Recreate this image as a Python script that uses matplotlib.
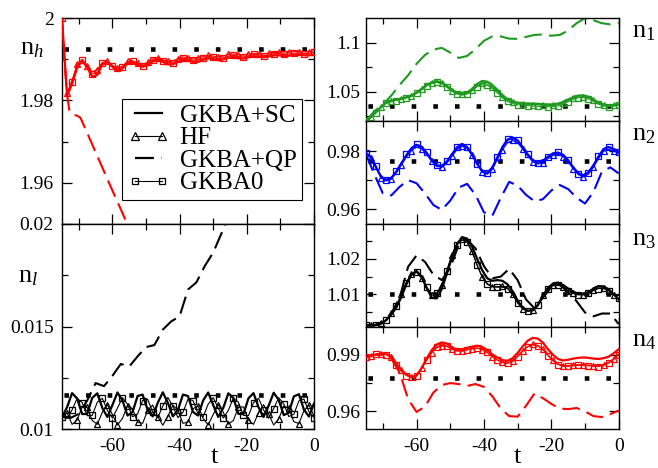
import numpy as np
import matplotlib
matplotlib.use('Agg')
import matplotlib.pyplot as plt
from matplotlib.lines import Line2D
from matplotlib.ticker import MultipleLocator, FixedLocator, FuncFormatter

plt.rcParams['font.family'] = ['Liberation Serif', 'DejaVu Serif']
plt.rcParams['mathtext.fontset'] = 'custom'
plt.rcParams['mathtext.rm'] = 'Liberation Serif'
plt.rcParams['mathtext.it'] = 'Liberation Serif:italic'
plt.rcParams['axes.unicode_minus'] = False

# ---------------- data ----------------
t = np.arange(-75, 0.01, 1.5)     # 51 samples, time grid of the GKBA+SC / HF / GKBA0 curves
t2 = np.arange(-75, 0.01, 2.5)    # 31 samples, time grid of most GKBA+QP curves

# n_h
nh_sc = [2.0000, 1.9812, 1.9840, 1.9880, 1.9897, 1.9880, 1.9858, 1.9862, 1.9888, 1.9893,
         1.9882, 1.9872, 1.9878, 1.9890, 1.9892, 1.9886, 1.9882, 1.9886, 1.9895, 1.9899,
         1.9894, 1.9888, 1.9888, 1.9894, 1.9899, 1.9898, 1.9894, 1.9894, 1.9899, 1.9903,
         1.9901, 1.9898, 1.9900, 1.9904, 1.9906, 1.9903, 1.9902, 1.9905, 1.9908, 1.9907,
         1.9905, 1.9907, 1.9910, 1.9910, 1.9908, 1.9909, 1.9911, 1.9912, 1.9910, 1.9910,
         1.9912]
nh_hf = [2.0000, 1.9818, 1.9850, 1.9888, 1.9900, 1.9885, 1.9870, 1.9875, 1.9893, 1.9895,
         1.9886, 1.9879, 1.9884, 1.9895, 1.9897, 1.9891, 1.9888, 1.9893, 1.9901, 1.9904,
         1.9899, 1.9895, 1.9896, 1.9902, 1.9906, 1.9904, 1.9901, 1.9903, 1.9907, 1.9910,
         1.9908, 1.9906, 1.9908, 1.9912, 1.9913, 1.9911, 1.9910, 1.9913, 1.9915, 1.9914,
         1.9913, 1.9915, 1.9917, 1.9917, 1.9915, 1.9917, 1.9919, 1.9919, 1.9918, 1.9919,
         1.9921]
nh_g0 = [2.0000, 1.9815, 1.9846, 1.9885, 1.9899, 1.9883, 1.9865, 1.9869, 1.9891, 1.9894,
         1.9884, 1.9876, 1.9881, 1.9893, 1.9895, 1.9889, 1.9885, 1.9890, 1.9898, 1.9902,
         1.9897, 1.9892, 1.9892, 1.9898, 1.9903, 1.9901, 1.9898, 1.9899, 1.9903, 1.9907,
         1.9905, 1.9902, 1.9904, 1.9908, 1.9910, 1.9907, 1.9906, 1.9909, 1.9912, 1.9911,
         1.9909, 1.9911, 1.9914, 1.9914, 1.9912, 1.9913, 1.9915, 1.9916, 1.9914, 1.9915,
         1.9917]
nh_qp_t = [-75, -74.3, -73.5, -72.8, -72, -70.5, -69.5, -66, -63, -60, -57, -54, -51]
nh_qp = [2.0, 1.990, 1.9815, 1.9775, 1.9766, 1.9763, 1.9758, 1.9693, 1.9637, 1.9581,
         1.9526, 1.9470, 1.9414]
nh_eq = 1.9925

# n_l
nl_sc = [0.01060, 0.01107, 0.01176, 0.01150, 0.01074, 0.01075, 0.01153, 0.01175, 0.01104, 0.01060,
         0.01118, 0.01179, 0.01140, 0.01067, 0.01084, 0.01162, 0.01169, 0.01093, 0.01063, 0.01129,
         0.01180, 0.01129, 0.01063, 0.01093, 0.01169, 0.01162, 0.01084, 0.01067, 0.01140, 0.01179,
         0.01118, 0.01060, 0.01104, 0.01175, 0.01153, 0.01075, 0.01074, 0.01151, 0.01176, 0.01107,
         0.01060, 0.01115, 0.01178, 0.01143, 0.01069, 0.01081, 0.01160, 0.01171, 0.01096, 0.01062,
         0.01126]
nl_hf = [0.01060, 0.01081, 0.01024, 0.01045, 0.01109, 0.01107, 0.01043, 0.01024, 0.01083, 0.01120,
         0.01072, 0.01021, 0.01053, 0.01114, 0.01100, 0.01035, 0.01029, 0.01092, 0.01118, 0.01062,
         0.01020, 0.01062, 0.01118, 0.01092, 0.01029, 0.01035, 0.01100, 0.01114, 0.01053, 0.01021,
         0.01072, 0.01120, 0.01083, 0.01025, 0.01043, 0.01107, 0.01109, 0.01045, 0.01024, 0.01081,
         0.01120, 0.01074, 0.01021, 0.01051, 0.01113, 0.01102, 0.01037, 0.01028, 0.01090, 0.01118,
         0.01065]
nl_g0 = [0.01060, 0.01055, 0.01094, 0.01151, 0.01130, 0.01066, 0.01068, 0.01132, 0.01151, 0.01092,
         0.01055, 0.01103, 0.01154, 0.01122, 0.01061, 0.01075, 0.01140, 0.01146, 0.01083, 0.01057,
         0.01113, 0.01155, 0.01113, 0.01057, 0.01083, 0.01146, 0.01140, 0.01075, 0.01061, 0.01122,
         0.01154, 0.01103, 0.01055, 0.01092, 0.01151, 0.01132, 0.01068, 0.01066, 0.01130, 0.01151,
         0.01094, 0.01055, 0.01101, 0.01154, 0.01124, 0.01062, 0.01073, 0.01138, 0.01147, 0.01085,
         0.01057]
nl_qp_t = [-75, -72.5, -70, -67.5, -65, -62.5, -60, -57.5, -55, -52.5, -50,
           -47.5, -45, -42.5, -40, -37.5, -35, -32.5, -30, -27.5, -25, -22.5]
nl_qp = [0.01060, 0.01055, 0.01075, 0.01140, 0.01225, 0.01210, 0.01260, 0.01318, 0.01305, 0.01355, 0.01400,
         0.01410, 0.01485, 0.01525, 0.01550, 0.01680, 0.01715, 0.01795, 0.01860, 0.01955, 0.02050, 0.02150]
nl_eq = 0.01168

# n_1
n1_sc = [1.0205, 1.0240, 1.0290, 1.0345, 1.0390, 1.0410, 1.0420, 1.0430, 1.0445, 1.0460,
         1.0490, 1.0530, 1.0570, 1.0595, 1.0608, 1.0595, 1.0560, 1.0520, 1.0490, 1.0478,
         1.0490, 1.0530, 1.0580, 1.0610, 1.0602, 1.0568, 1.0520, 1.0465, 1.0425, 1.0400,
         1.0388, 1.0383, 1.0380, 1.0378, 1.0375, 1.0372, 1.0370, 1.0370, 1.0378, 1.0395,
         1.0420, 1.0445, 1.0460, 1.0462, 1.0450, 1.0420, 1.0390, 1.0370, 1.0360, 1.0362,
         1.0370]
n1_hf = [1.0205, 1.0245, 1.0295, 1.0345, 1.0385, 1.0405, 1.0415, 1.0425, 1.0440, 1.0458,
         1.0490, 1.0528, 1.0565, 1.0590, 1.0598, 1.0585, 1.0550, 1.0510, 1.0482, 1.0472,
         1.0482, 1.0515, 1.0562, 1.0585, 1.0578, 1.0545, 1.0500, 1.0450, 1.0413, 1.0392,
         1.0380, 1.0375, 1.0370, 1.0368, 1.0365, 1.0362, 1.0360, 1.0360, 1.0367, 1.0384,
         1.0408, 1.0432, 1.0447, 1.0450, 1.0440, 1.0413, 1.0385, 1.0367, 1.0360, 1.0365,
         1.0375]
n1_g0 = [1.0205, 1.0238, 1.0285, 1.0338, 1.0380, 1.0400, 1.0410, 1.0420, 1.0435, 1.0452,
         1.0482, 1.0520, 1.0558, 1.0585, 1.0594, 1.0580, 1.0545, 1.0505, 1.0476, 1.0466,
         1.0476, 1.0508, 1.0552, 1.0572, 1.0565, 1.0532, 1.0488, 1.0437, 1.0400, 1.0378,
         1.0367, 1.0362, 1.0357, 1.0353, 1.0350, 1.0348, 1.0346, 1.0347, 1.0354, 1.0372,
         1.0398, 1.0423, 1.0438, 1.0440, 1.0428, 1.0400, 1.0372, 1.0353, 1.0347, 1.0352,
         1.0362]
n1_qp = [1.0205, 1.0300, 1.0368, 1.0460, 1.0570, 1.0668, 1.0785, 1.0875, 1.0930, 1.0948,
         1.0900, 1.0845, 1.0865, 1.0935, 1.1020, 1.1065, 1.1065, 1.1042, 1.1040, 1.1060,
         1.1080, 1.1085, 1.1072, 1.1080, 1.1125, 1.1200, 1.1252, 1.1230, 1.1200, 1.1188,
         1.1205]
n1_eq = 1.0354

# n_2
n2_sc = [0.9795, 0.9780, 0.9745, 0.9712, 0.9702, 0.9708, 0.9730, 0.9758, 0.9786, 0.9810,
         0.9822, 0.9815, 0.9795, 0.9770, 0.9752, 0.9750, 0.9765, 0.9790, 0.9813, 0.9825,
         0.9815, 0.9790, 0.9758, 0.9732, 0.9726, 0.9745, 0.9780, 0.9815, 0.9840, 0.9848,
         0.9838, 0.9815, 0.9790, 0.9770, 0.9762, 0.9768, 0.9782, 0.9793, 0.9796, 0.9788,
         0.9770, 0.9745, 0.9725, 0.9718, 0.9728, 0.9752, 0.9782, 0.9808, 0.9815, 0.9808,
         0.9798]
n2_hf = [0.9795, 0.9778, 0.9742, 0.9708, 0.9698, 0.9704, 0.9726, 0.9754, 0.9781, 0.9803,
         0.9815, 0.9809, 0.9790, 0.9766, 0.9748, 0.9745, 0.9759, 0.9783, 0.9806, 0.9818,
         0.9810, 0.9786, 0.9754, 0.9728, 0.9721, 0.9738, 0.9772, 0.9806, 0.9830, 0.9838,
         0.9830, 0.9808, 0.9784, 0.9764, 0.9756, 0.9761, 0.9775, 0.9787, 0.9790, 0.9782,
         0.9764, 0.9740, 0.9720, 0.9712, 0.9721, 0.9745, 0.9775, 0.9800, 0.9808, 0.9802,
         0.9793]
n2_g0 = [0.9795, 0.9782, 0.9748, 0.9714, 0.9703, 0.9710, 0.9733, 0.9762, 0.9790, 0.9814,
         0.9825, 0.9818, 0.9797, 0.9771, 0.9752, 0.9750, 0.9766, 0.9792, 0.9816, 0.9828,
         0.9817, 0.9790, 0.9757, 0.9731, 0.9725, 0.9745, 0.9782, 0.9818, 0.9843, 0.9850,
         0.9840, 0.9816, 0.9790, 0.9769, 0.9760, 0.9766, 0.9781, 0.9793, 0.9797, 0.9789,
         0.9770, 0.9744, 0.9723, 0.9716, 0.9727, 0.9753, 0.9784, 0.9810, 0.9817, 0.9810,
         0.9799]
n2_qp = [0.9790, 0.9720, 0.9655, 0.9648, 0.9678, 0.9701, 0.9690, 0.9655, 0.9615, 0.9598,
         0.9630, 0.9675, 0.9688, 0.9650, 0.9590, 0.9578, 0.9640, 0.9695, 0.9682, 0.9650,
         0.9628, 0.9635, 0.9665, 0.9684, 0.9670, 0.9640, 0.9620, 0.9660, 0.9730, 0.9745,
         0.9724]
n2_eq = 0.9768

# n_3
n3_sc = [1.0011, 1.0011, 1.0012, 1.0016, 1.0026, 1.0042, 1.0062, 1.0092, 1.0128, 1.0155,
         1.0166, 1.0150, 1.0118, 1.0090, 1.0088, 1.0115, 1.0158, 1.0205, 1.0242, 1.0262,
         1.0258, 1.0235, 1.0200, 1.0168, 1.0145, 1.0138, 1.0140, 1.0138, 1.0128, 1.0108,
         1.0082, 1.0062, 1.0053, 1.0054, 1.0068, 1.0095, 1.0118, 1.0130, 1.0133, 1.0126,
         1.0116, 1.0107, 1.0101, 1.0101, 1.0106, 1.0116, 1.0123, 1.0122, 1.0114, 1.0100,
         1.0085]
n3_hf = [1.0011, 1.0012, 1.0013, 1.0018, 1.0028, 1.0046, 1.0068, 1.0100, 1.0135, 1.0158,
         1.0163, 1.0146, 1.0117, 1.0097, 1.0098, 1.0126, 1.0168, 1.0212, 1.0245, 1.0258,
         1.0250, 1.0222, 1.0182, 1.0148, 1.0128, 1.0121, 1.0121, 1.0122, 1.0118, 1.0100,
         1.0075, 1.0058, 1.0052, 1.0056, 1.0072, 1.0098, 1.0117, 1.0127, 1.0128, 1.0120,
         1.0110, 1.0103, 1.0099, 1.0099, 1.0104, 1.0112, 1.0118, 1.0117, 1.0110, 1.0099,
         1.0086]
n3_g0 = [1.0011, 1.0011, 1.0013, 1.0017, 1.0027, 1.0044, 1.0066, 1.0097, 1.0132, 1.0156,
         1.0162, 1.0147, 1.0120, 1.0102, 1.0103, 1.0128, 1.0166, 1.0208, 1.0240, 1.0254,
         1.0247, 1.0220, 1.0182, 1.0150, 1.0130, 1.0122, 1.0120, 1.0120, 1.0116, 1.0099,
         1.0076, 1.0059, 1.0052, 1.0055, 1.0070, 1.0095, 1.0114, 1.0124, 1.0126, 1.0119,
         1.0109, 1.0102, 1.0098, 1.0098, 1.0102, 1.0110, 1.0116, 1.0116, 1.0110, 1.0100,
         1.0088]
n3_qp = [1.0011, 1.0012, 1.0022, 1.0045, 1.0090, 1.0178, 1.0210, 1.0192, 1.0155, 1.0140,
         1.0175, 1.0240, 1.0255, 1.0230, 1.0180, 1.0145, 1.0150, 1.0172, 1.0140, 1.0085,
         1.0060, 1.0090, 1.0120, 1.0128, 1.0105, 1.0080, 1.0048, 1.0037, 1.0045, 1.0045,
         1.0015]
n3_eq = 1.0100

# n_4
n4_sc = [0.9886, 0.9895, 0.9902, 0.9906, 0.9905, 0.9893, 0.9855, 0.9820, 0.9795, 0.9782,
         0.9790, 0.9830, 0.9880, 0.9925, 0.9955, 0.9966, 0.9960, 0.9940, 0.9928, 0.9930,
         0.9937, 0.9944, 0.9948, 0.9942, 0.9925, 0.9902, 0.9885, 0.9872, 0.9868, 0.9882,
         0.9910, 0.9945, 0.9975, 0.9990, 0.9986, 0.9965, 0.9930, 0.9900, 0.9878, 0.9870,
         0.9874, 0.9880, 0.9884, 0.9886, 0.9884, 0.9880, 0.9878, 0.9882, 0.9890, 0.9908,
         0.9930]
n4_hf = [0.9886, 0.9895, 0.9902, 0.9905, 0.9902, 0.9888, 0.9852, 0.9818, 0.9794, 0.9784,
         0.9792, 0.9828, 0.9872, 0.9912, 0.9938, 0.9948, 0.9944, 0.9930, 0.9920, 0.9920,
         0.9926, 0.9932, 0.9934, 0.9928, 0.9912, 0.9890, 0.9872, 0.9860, 0.9857, 0.9868,
         0.9893, 0.9922, 0.9945, 0.9955, 0.9950, 0.9930, 0.9900, 0.9872, 0.9852, 0.9843,
         0.9843, 0.9846, 0.9848, 0.9848, 0.9846, 0.9843, 0.9842, 0.9848, 0.9860, 0.9880,
         0.9905]
n4_g0 = [0.9886, 0.9896, 0.9903, 0.9905, 0.9901, 0.9885, 0.9848, 0.9813, 0.9790, 0.9781,
         0.9790, 0.9828, 0.9874, 0.9915, 0.9942, 0.9952, 0.9947, 0.9932, 0.9921, 0.9921,
         0.9927, 0.9934, 0.9937, 0.9930, 0.9914, 0.9891, 0.9872, 0.9859, 0.9855, 0.9865,
         0.9890, 0.9920, 0.9943, 0.9953, 0.9948, 0.9927, 0.9896, 0.9868, 0.9848, 0.9839,
         0.9839, 0.9842, 0.9844, 0.9844, 0.9842, 0.9839, 0.9838, 0.9844, 0.9856, 0.9876,
         0.9900]
n4_qp = [0.9886, 0.9900, 0.9900, 0.9880, 0.9805, 0.9665, 0.9597, 0.9625, 0.9700, 0.9740,
         0.9750, 0.9745, 0.9735, 0.9745, 0.9730, 0.9680, 0.9615, 0.9575, 0.9572, 0.9630,
         0.9695, 0.9670, 0.9640, 0.9615, 0.9612, 0.9618, 0.9600, 0.9575, 0.9570, 0.9585,
         0.9605]
n4_eq = 0.9778

legend_labels = ['GKBA+SC', 'HF', 'GKBA+QP', 'GKBA0']

# ---------------- figure ----------------
fig = plt.figure(figsize=(6.58, 4.68), dpi=100)
LX, LW = 62 / 658, 252 / 658
RX, RW = 366 / 658, 252.7 / 658
Y0 = 1 - 429.3 / 468
H4 = (1 - 18.3 / 468 - Y0) / 4

ax_h = fig.add_axes([LX, Y0 + 2 * H4, LW, 2 * H4])
ax_l = fig.add_axes([LX, Y0, LW, 2 * H4])
ax1 = fig.add_axes([RX, Y0 + 3 * H4, RW, H4])
ax2 = fig.add_axes([RX, Y0 + 2 * H4, RW, H4])
ax3 = fig.add_axes([RX, Y0 + 1 * H4, RW, H4])
ax4 = fig.add_axes([RX, Y0, RW, H4])

RED, BLUE, GREEN, BLACK = '#ff0000', '#0000ff', '#1f9a1f', '#000000'
DASH = (0, (8.5, 3.5))


def draw(ax, color, sc, hf, g0, qp_t, qp, eq):
    ax.plot([-75, 0], [eq, eq], color='black', lw=3.3, ls=(4.3, (1, 3.72)),
            dash_capstyle='butt', zorder=1)
    ax.plot(qp_t, qp, color=color, lw=1.5, ls=DASH, zorder=2)
    ax.plot(t, g0, color=color, lw=0.8, marker='s', ms=4.4, mfc='none', mew=0.9,
            markevery=(0, 2), zorder=3)
    ax.plot(t, hf, color=color, lw=0.8, marker='^', ms=5.0, mfc='none', mew=0.9,
            markevery=(1, 2), zorder=3)
    ax.plot(t, sc, color=color, lw=1.6, zorder=4)


def style(ax, ylim, major, minor, xlabels, ypad):
    ax.set_xlim(-75, 0)
    ax.set_ylim(*ylim)
    ax.xaxis.set_major_locator(MultipleLocator(20))
    ax.xaxis.set_minor_locator(MultipleLocator(10))
    ax.yaxis.set_major_locator(FixedLocator(major))
    ax.yaxis.set_minor_locator(FixedLocator(minor))
    ax.yaxis.set_major_formatter(FuncFormatter(lambda v, p: f'{v:g}'))
    ax.tick_params(which='both', direction='in', top=True, right=True, width=0.9,
                   labelsize=14, colors='black')
    ax.tick_params(which='major', length=7)
    ax.tick_params(which='minor', length=4)
    ax.tick_params(axis='y', pad=ypad)
    ax.tick_params(axis='x', pad=6)
    if not xlabels:
        ax.tick_params(labelbottom=False)
    for s in ax.spines.values():
        s.set_linewidth(1.0)


draw(ax_h, RED, nh_sc, nh_hf, nh_g0, nh_qp_t, nh_qp, nh_eq)
draw(ax_l, BLACK, nl_sc, nl_hf, nl_g0, nl_qp_t, nl_qp, nl_eq)
draw(ax1, GREEN, n1_sc, n1_hf, n1_g0, t2, n1_qp, n1_eq)
draw(ax2, BLUE, n2_sc, n2_hf, n2_g0, t2, n2_qp, n2_eq)
draw(ax3, BLACK, n3_sc, n3_hf, n3_g0, t2, n3_qp, n3_eq)
draw(ax4, RED, n4_sc, n4_hf, n4_g0, t2, n4_qp, n4_eq)

style(ax_h, (1.95, 2.0), [1.96, 1.98, 2.0], [1.97, 1.99], False, 6)
style(ax_l, (0.01, 0.02), [0.01, 0.015, 0.02], [0.0125, 0.0175], True, 6)
style(ax1, (1.02, 1.125), [1.05, 1.1], [1.025, 1.075], False, 4)
style(ax2, (0.955, 0.9905), [0.96, 0.98], [0.97], False, 4)
style(ax3, (1.0008, 1.03), [1.01, 1.02], [1.005, 1.015, 1.025], False, 4)
style(ax4, (0.9505, 1.005), [0.96, 0.99], [0.975], True, 4)

# panel labels
ax_h.text(-0.167, 0.822, r'$\mathrm{n}_h$', transform=ax_h.transAxes, fontsize=19, va='baseline')
ax_l.text(-0.175, 0.716, r'$\mathrm{n}_l$', transform=ax_l.transAxes, fontsize=19, va='baseline')
for ax, lab, yb in [(ax1, r'$\mathrm{n}_1$', 0.818), (ax2, r'$\mathrm{n}_2$', 0.816),
                    (ax3, r'$\mathrm{n}_3$', 0.787), (ax4, r'$\mathrm{n}_4$', 0.807)]:
    ax.text(1.053, yb, lab, transform=ax.transAxes, fontsize=19, va='baseline')

fig.text(214 / 658, 1 - 463 / 468, 't', ha='center', va='baseline', fontsize=19)
fig.text(517 / 658, 1 - 463 / 468, 't', ha='center', va='baseline', fontsize=19)

# legend
handles = [Line2D([], [], color='k', lw=1.6),
           Line2D([], [], color='k', lw=0.8, marker='^', ms=5.5, mfc='none', mew=0.9),
           Line2D([], [], color='k', lw=1.6, ls=DASH),
           Line2D([], [], color='k', lw=0.8, marker='s', ms=5, mfc='none', mew=0.9)]
leg = ax_h.legend(handles, legend_labels, loc='lower right', bbox_to_anchor=(0.952, 0.1165),
                  borderaxespad=0, fontsize=18, fancybox=False, edgecolor='black',
                  framealpha=1, handlelength=1.7, handletextpad=0.4, labelspacing=0.0,
                  borderpad=0.22, numpoints=2)
leg.get_frame().set_linewidth(0.8)

fig.savefig('out.png', dpi=100)
